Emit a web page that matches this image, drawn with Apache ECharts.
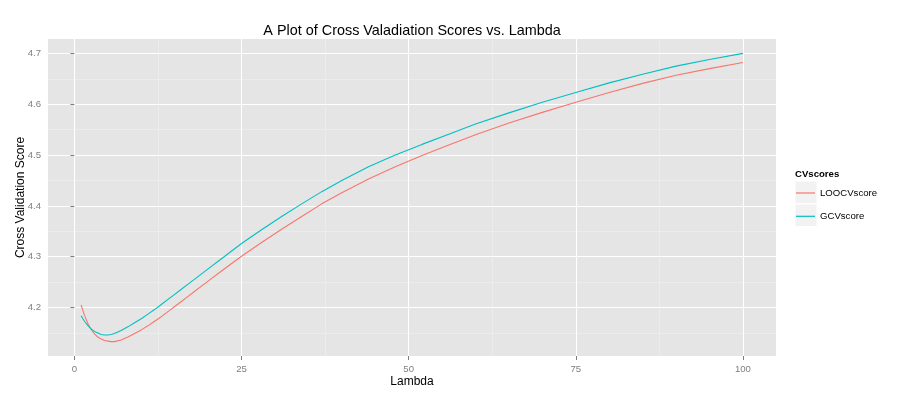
<!DOCTYPE html>
<html>
<head>
<meta charset="utf-8">
<script src="https://cdn.jsdelivr.net/npm/echarts@6/dist/echarts.min.js"></script>
<style>
  html, body { margin: 0; padding: 0; background: #fff; }
  #chart { width: 913px; height: 398px; }
</style>
</head>
<body>
<div id="chart"></div>
<script>
// lambda values
const lambda = [1, 1.5, 2, 2.5, 3, 3.5, 4, 4.5, 5, 5.5, 6, 7, 8, 9, 10, 11, 12, 13, 14, 15, 16, 17, 18,
  20, 22, 25, 28, 31, 34, 37, 40, 44, 48, 52, 56, 60, 65, 70, 75, 80, 85, 90, 95, 100];
const loocvScore = [4.205, 4.185, 4.169, 4.157, 4.148, 4.142, 4.138, 4.135, 4.134, 4.133, 4.133, 4.136,
  4.142, 4.149, 4.156, 4.164, 4.173, 4.182, 4.192, 4.202, 4.212, 4.222, 4.232, 4.252, 4.272, 4.301,
  4.328, 4.354, 4.379, 4.404, 4.426, 4.453, 4.477, 4.499, 4.520, 4.540, 4.563, 4.584, 4.604, 4.623,
  4.641, 4.657, 4.670, 4.682];
const gcvScore = [4.184, 4.173, 4.165, 4.158, 4.153, 4.150, 4.147, 4.146, 4.146, 4.147, 4.149, 4.155,
  4.162, 4.170, 4.178, 4.187, 4.196, 4.206, 4.216, 4.226, 4.236, 4.246, 4.256, 4.276, 4.296, 4.326,
  4.353, 4.379, 4.404, 4.428, 4.450, 4.477, 4.500, 4.521, 4.541, 4.561, 4.583, 4.604, 4.623, 4.642,
  4.659, 4.675, 4.688, 4.700];
const seriesNames = ['LOOCVscore', 'GCVscore'];
const seriesColors = ['#F8766D', '#00BFC4'];
const xTicks = [0, 25, 50, 75, 100];
const xMinorTicks = [12.5, 37.5, 62.5, 87.5];
const yTicks = [4.2, 4.3, 4.4, 4.5, 4.6, 4.7];
const yMinorTicks = [4.15, 4.25, 4.35, 4.45, 4.55, 4.65];

// ggplot style 5% expansion of the data range
const xLo = Math.min(...lambda), xHi = Math.max(...lambda);
const allY = loocvScore.concat(gcvScore);
const yLo = Math.min(...allY), yHi = Math.max(...allY);
const xPad = (xHi - xLo) * 0.05, yPad = (yHi - yLo) * 0.05;

const FONT = '"Liberation Sans", Arial, Helvetica, sans-serif';
const grey = '#7F7F7F';

const chart = echarts.init(document.getElementById('chart'));

// minor grid axis first, then the main axis with ticks and labels
function axisPair(ticks, minor, lo, hi, pos, fmt) {
  const sub = {
    type: 'value', min: lo, max: hi, position: pos,
    axisLine: { show: false },
    axisTick: { show: false, customValues: minor },
    axisLabel: { show: false, customValues: minor },
    splitLine: { show: true, lineStyle: { color: '#F0F0F0', width: 0.6 } }
  };
  const main = {
    type: 'value', min: lo, max: hi, position: pos,
    axisLine: { show: false },
    axisTick: { show: true, customValues: ticks, length: 4, lineStyle: { color: grey, width: 1 } },
    axisLabel: {
      customValues: ticks, color: grey, fontSize: 9.6, fontFamily: FONT,
      margin: pos === 'bottom' ? 8 : 7, formatter: fmt
    },
    splitLine: { show: true, lineStyle: { color: '#FFFFFF', width: 1.1 } },
    nameMoveOverlap: false
  };
  return [sub, main];
}

const xAxes = axisPair(xTicks, xMinorTicks, xLo - xPad, xHi + xPad, 'bottom', v => String(v));
xAxes[1].name = 'Lambda';
xAxes[1].nameLocation = 'middle';
xAxes[1].nameGap = 20;
xAxes[1].nameTextStyle = { color: '#000', fontSize: 12, fontFamily: FONT };

const yAxes = axisPair(yTicks, yMinorTicks, yLo - yPad, yHi + yPad, 'left', v => v.toFixed(1));
yAxes[1].name = 'Cross Validation Score';
yAxes[1].nameLocation = 'middle';
yAxes[1].nameGap = 21;
yAxes[1].nameTextStyle = { color: '#000', fontSize: 12, fontFamily: FONT };

// one legend block per key so each row sits on its own grey key box
const legends = seriesNames.map((name, i) => ({
  orient: 'vertical', left: 796, top: 188 + i * 23.3, padding: 0,
  icon: 'rect', itemWidth: 19, itemHeight: 1.2, itemGap: 0,
  data: [name],
  textStyle: { color: '#000', fontSize: 9.6, fontFamily: FONT }
}));

const option = {
  animation: false,
  backgroundColor: '#FFFFFF',
  textStyle: { fontFamily: FONT },
  title: {
    text: 'A Plot of Cross Valadiation Scores vs. Lambda',
    left: 412, top: 24, textAlign: 'center', padding: 0,
    textStyle: { color: '#000', fontSize: 14.4, fontWeight: 'normal', fontFamily: FONT }
  },
  grid: {
    left: 48, top: 39, width: 728, height: 317,
    show: true, backgroundColor: '#E5E5E5', borderWidth: 0
  },
  xAxis: xAxes,
  yAxis: yAxes,
  legend: legends,
  graphic: [
    { type: 'text', left: 795, top: 169, style: { text: 'CVscores', fontSize: 9.6, fontWeight: 'bold', fontFamily: FONT, fill: '#000' } },
    { type: 'rect', shape: { x: 795, y: 181, width: 22, height: 22.5 }, style: { fill: '#F2F2F2', stroke: '#FFFFFF', lineWidth: 1 }, z: -1 },
    { type: 'rect', shape: { x: 795, y: 204, width: 22, height: 22.5 }, style: { fill: '#F2F2F2', stroke: '#FFFFFF', lineWidth: 1 }, z: -1 }
  ],
  series: seriesNames.map((name, i) => ({
    name: name, type: 'line', xAxisIndex: 1, yAxisIndex: 1,
    data: lambda.map((l, j) => [l, (i === 0 ? loocvScore : gcvScore)[j]]),
    showSymbol: false, symbol: 'none', smooth: false,
    lineStyle: { color: seriesColors[i], width: 1.1 }, itemStyle: { color: seriesColors[i] }
  }))
};
chart.setOption(option);
</script>
</body>
</html>
